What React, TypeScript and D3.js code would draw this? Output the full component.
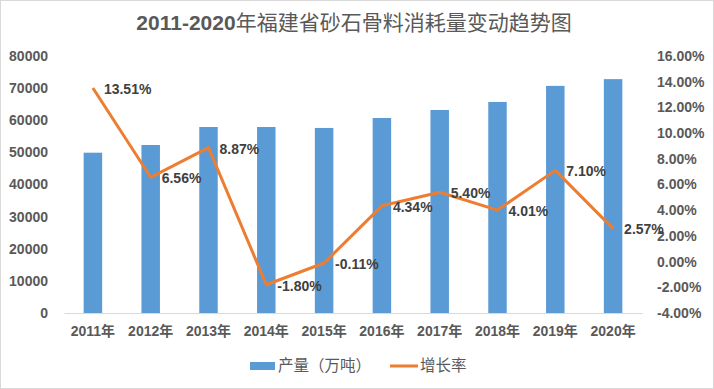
import * as d3 from 'd3'
import { useRef, useEffect } from 'react'

const years = ['2011年', '2012年', '2013年', '2014年', '2015年', '2016年', '2017年', '2018年', '2019年', '2020年']
const output = [49900, 52300, 57900, 57900, 57600, 60700, 63200, 65700, 70700, 72800]
const growth = [13.51, 6.56, 8.87, -1.80, -0.11, 4.34, 5.40, 4.01, 7.10, 2.57]
const leftTicks = [0, 10000, 20000, 30000, 40000, 50000, 60000, 70000, 80000]
const rightTicks = [-4, -2, 0, 2, 4, 6, 8, 10, 12, 14, 16]
const titleLatin = '2011-2020'
const titleCjk = '年福建省砂石骨料消耗量变动趋势图'
const legendNames = ['产量（万吨）', '增长率']

export default function App() {
    const svgRef = useRef<SVGSVGElement>(null)
    const width = 714
    const height = 389

    useEffect(() => {
        const svg = d3.select(svgRef.current)
        svg.selectAll('*').remove()

        const margin = { top: 56, right: 72, bottom: 76, left: 64 }
        const innerWidth = width - margin.left - margin.right
        const innerHeight = height - margin.top - margin.bottom
        const font = '"Liberation Sans", "Noto Sans CJK SC", sans-serif'
        const grey = '#595959'

        // border
        svg.append('rect')
            .attr('x', 0.5).attr('y', 0.5)
            .attr('width', width - 1).attr('height', height - 1)
            .attr('fill', '#fff')
            .attr('stroke', '#d9d9d9')

        const x = d3.scaleBand().domain(years).range([0, innerWidth])
        const yLeft = d3.scaleLinear().domain([0, 80000]).range([innerHeight, 0])
        const yRight = d3.scaleLinear().domain([-4, 16]).range([innerHeight, 0])

        const g = svg.append('g')
            .attr('transform', `translate(${margin.left},${margin.top})`)

        // left axis
        const la = g.append('g')
            .call(d3.axisLeft(yLeft).tickValues(leftTicks).tickSize(0).tickPadding(16).tickFormat(d => String(d)))
        la.select('.domain').remove()
        la.selectAll('text')
            .attr('fill', grey).attr('font-size', 14).attr('font-weight', 'bold').attr('font-family', font)

        // right axis
        const ra = g.append('g')
            .attr('transform', `translate(${innerWidth},0)`)
            .call(d3.axisRight(yRight).tickValues(rightTicks).tickSize(0).tickPadding(15).tickFormat(d => (d as number).toFixed(2) + '%'))
        ra.select('.domain').remove()
        ra.selectAll('text')
            .attr('fill', grey).attr('font-size', 14).attr('font-weight', 'bold').attr('font-family', font)

        // bars
        const barW = x.bandwidth() * 0.32
        g.selectAll('.bar')
            .data(output)
            .join('rect')
            .attr('class', 'bar')
            .attr('x', (d, i) => x(years[i])! + x.bandwidth() / 2 - barW / 2)
            .attr('y', d => yLeft(d))
            .attr('width', barW)
            .attr('height', d => innerHeight - yLeft(d))
            .attr('fill', '#5b9bd5')

        // bottom axis
        const ba = g.append('g')
            .attr('transform', `translate(0,${innerHeight})`)
            .call(d3.axisBottom(x).tickSize(0).tickPadding(13))
        ba.select('.domain').attr('stroke', '#d9d9d9')
        ba.selectAll('text')
            .attr('fill', grey).attr('font-size', 14).attr('font-weight', 'bold').attr('font-family', font)

        // growth line
        const cx = (i: number) => x(years[i])! + x.bandwidth() / 2
        g.append('path')
            .datum(growth)
            .attr('d', d3.line<number>().x((d, i) => cx(i)).y(d => yRight(d)))
            .attr('fill', 'none')
            .attr('stroke', '#ed7d31')
            .attr('stroke-width', 3)
            .attr('stroke-linejoin', 'round')

        g.selectAll('.lbl')
            .data(growth)
            .join('text')
            .attr('class', 'lbl')
            .attr('x', (d, i) => cx(i) + 11)
            .attr('y', d => yRight(d) + 1)
            .attr('dy', '0.35em')
            .attr('fill', '#404040')
            .attr('font-size', 14)
            .attr('font-weight', 'bold')
            .attr('font-family', font)
            .text(d => d.toFixed(2) + '%')

        // title
        const title = svg.append('text')
            .attr('x', 354).attr('y', 23).attr('dy', '0.35em')
            .attr('text-anchor', 'middle')
            .attr('fill', grey)
            .attr('font-size', 21)
            .attr('font-family', font)
        title.append('tspan').attr('font-weight', 'bold').text(titleLatin)
        title.append('tspan').attr('font-family', '"Noto Sans CJK SC", sans-serif').text(titleCjk)

        // legend
        const lg = svg.append('g')
        lg.append('rect')
            .attr('x', 250).attr('y', 362).attr('width', 25).attr('height', 8)
            .attr('fill', '#5b9bd5')
        lg.append('text')
            .attr('x', 278).attr('y', 366).attr('dy', '0.35em')
            .attr('fill', grey).attr('font-size', 15.5)
            .attr('font-family', '"Noto Sans CJK SC", sans-serif')
            .text(legendNames[0])
        lg.append('line')
            .attr('x1', 390).attr('x2', 418).attr('y1', 366).attr('y2', 366)
            .attr('stroke', '#ed7d31').attr('stroke-width', 3)
        lg.append('text')
            .attr('x', 420).attr('y', 366).attr('dy', '0.35em')
            .attr('fill', grey).attr('font-size', 15.5)
            .attr('font-family', '"Noto Sans CJK SC", sans-serif')
            .text(legendNames[1])
    }, [])

    return (
        <svg ref={svgRef} width={width} height={height}
            style={{ position: 'absolute', left: 0, top: 0 }}>
        </svg>
    )
}
